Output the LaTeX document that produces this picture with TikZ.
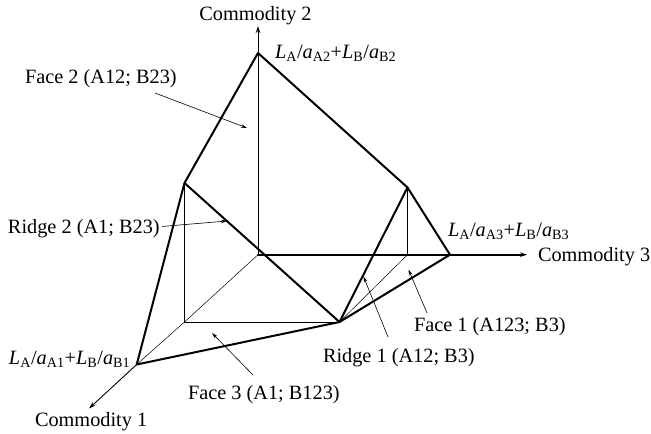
\documentclass[tikz,border=0pt]{standalone}
\usepackage{fontspec}
\setmainfont{Liberation Serif}
\usetikzlibrary{arrows.meta}
\begin{document}
\begin{tikzpicture}[x=1pt,y=-1pt,
  every node/.style={inner sep=0pt,outer sep=0pt,font=\fontsize{20.3}{24}\selectfont},
  edge/.style={line width=2pt,line join=round,line cap=round},
  axisline/.style={line width=0.9pt},
  hair/.style={line width=0.5pt},
  axisarrow/.style={-{Stealth[length=7pt,width=4.5pt]}},
  callout/.style={line width=0.6pt,-{Stealth[length=6pt,width=3.5pt]}},
  lbl/.style={anchor=base west}]
\useasboundingbox (0,0) rectangle (651,434);
% key points
\coordinate (O) at (258,254.7);
\coordinate (A) at (258,53);
\coordinate (B) at (184.5,183);
\coordinate (C) at (407.5,187.5);
\coordinate (D) at (339.5,322);
\coordinate (V1) at (136.7,364.5);
\coordinate (V3) at (450,254.7);
\coordinate (E) at (184.5,322);
\coordinate (F) at (407.5,254.7);
\coordinate (T2) at (258,26);
\coordinate (T3) at (527,254.7);
\coordinate (T1) at (89,408.5);
% thin construction lines
\draw[axisline] (O) -- (A);
\draw[axisline,axisarrow] (A) -- (T2);
\draw[axisline] (B) -- (E) -- (D);
\draw[axisline] (C) -- (F);
\draw[hair] (F) -- (D);
\draw[hair] (O) -- (E) -- (V1);
\draw[axisline,axisarrow] (V1) -- (T1);
% horizontal axis
\draw[edge] (O) -- (V3);
\draw[line width=1.6pt,axisarrow] (V3) -- (T3);
% thick edges
\draw[edge] (V1) -- (B) -- (A) -- (C) -- (V3) -- (D) -- (V1);
\draw[edge] (B) -- (D) -- (C);
% axis labels
\node[anchor=base] (c2) at (255.5,20) {Commodity 2};
\node[lbl] (c3) at (538,261) {Commodity 3};
\node[lbl] (c1) at (35,426.5) {Commodity 1};
% vertex labels
\node[lbl] (l2) at (275,58) {\textit{L}\textsubscript{A}/\textit{a}\textsubscript{A2}+\textit{L}\textsubscript{B}/\textit{a}\textsubscript{B2}};
\node[lbl] (l3) at (448,236) {\textit{L}\textsubscript{A}/\textit{a}\textsubscript{A3}+\textit{L}\textsubscript{B}/\textit{a}\textsubscript{B3}};
\node[lbl] (l1) at (9,364.5) {\textit{L}\textsubscript{A}/\textit{a}\textsubscript{A1}+\textit{L}\textsubscript{B}/\textit{a}\textsubscript{B1}};
% region labels
\node[lbl] (f2) at (25,83) {Face 2 (A12; B23)};
\node[lbl] (r2) at (8,233) {Ridge 2 (A1; B23)};
\node[lbl] (f3) at (188,399) {Face 3 (A1; B123)};
\node[lbl] (r1) at (323,362) {Ridge 1 (A12; B3)};
\node[lbl] (f1) at (414,331) {Face 1 (A123; B3)};
% callout arrows
\coordinate (f2s) at (155,93);   \coordinate (f2e) at (247,128);
\coordinate (r2s) at (162,226.5); \coordinate (r2e) at (227,221);
\coordinate (f3s) at (253,375);  \coordinate (f3e) at (212,333);
\coordinate (r1s) at (388,337);  \coordinate (r1e) at (363.5,276.5);
\coordinate (f1s) at (427,313);  \coordinate (f1e) at (408.5,269.5);
\draw[callout] (f2s) -- (f2e);
\draw[callout] (r2s) -- (r2e);
\draw[callout] (f3s) -- (f3e);
\draw[callout] (r1s) -- (r1e);
\draw[callout] (f1s) -- (f1e);
\end{tikzpicture}
\end{document}
